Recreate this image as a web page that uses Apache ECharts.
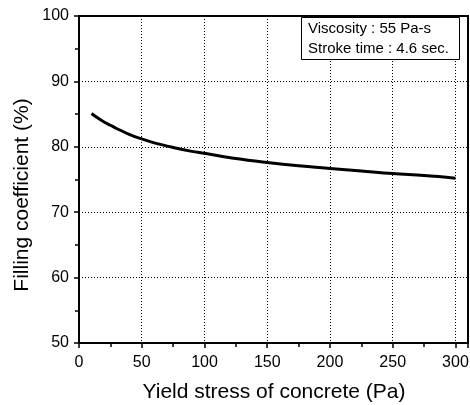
<!DOCTYPE html>
<html><head><meta charset="utf-8">
<script src="https://cdn.jsdelivr.net/npm/echarts@6/dist/echarts.min.js"></script>
<style>html,body{margin:0;padding:0;background:#fff}#c{width:470px;height:405px}</style>
</head><body><div id="c"></div>
<script>
var xVals = [10, 15, 20, 25, 30, 40, 50, 60, 75, 90, 100, 125, 150, 175, 200, 225, 250, 275, 300];
var yVals = [85.1, 84.4, 83.8, 83.3, 82.8, 81.9, 81.2, 80.6, 79.9, 79.3, 79.0, 78.2, 77.6, 77.1, 76.7, 76.3, 75.9, 75.6, 75.2];
var xTicks = [0, 50, 100, 150, 200, 250, 300];
var yTicks = [50, 60, 70, 80, 90, 100];
var annot = ['Viscosity : 55 Pa-s', 'Stroke time : 4.6 sec.'];
var xTitle = 'Yield stress of concrete (Pa)';
var yTitle = 'Filling coefficient (%)';

var font = 'Arial, "Liberation Sans", sans-serif';
var chart = echarts.init(document.getElementById('c'));
var data = xVals.map(function(x, i){ return [x, yVals[i]]; });
chart.setOption({
  animation: false,
  grid: {left: 79, right: 2, top: 16, bottom: 62, outerBoundsMode: 'none', containLabel: false,
         show: true, borderColor: '#000', borderWidth: 2, backgroundColor: 'transparent'},
  xAxis: {
    type: 'value', min: 0, max: 310, interval: 50,
    axisLine: {show: true, onZero: false, lineStyle: {color: '#000', width: 2}},
    axisTick: {show: true, inside: false, length: 5, lineStyle: {color: '#000', width: 1.5}},
    minorTick: {show: true, splitNumber: 2, length: 4, lineStyle: {color: '#000', width: 1.5}},
    axisLabel: {fontFamily: font, fontSize: 16, color: '#000', margin: 12,
      formatter: function(v){ return xTicks.indexOf(v) >= 0 ? String(v) : ''; }},
    splitLine: {show: true, lineStyle: {color: '#000', width: 1, type: [1, 2]}}
  },
  yAxis: {
    type: 'value', min: 50, max: 100, interval: 10,
    axisLine: {show: true, lineStyle: {color: '#000', width: 2}},
    axisTick: {show: true, inside: false, length: 5, lineStyle: {color: '#000', width: 1.5}},
    minorTick: {show: true, splitNumber: 2, length: 4, lineStyle: {color: '#000', width: 1.5}},
    axisLabel: {fontFamily: font, fontSize: 16, color: '#000', margin: 10,
      formatter: function(v){ return yTicks.indexOf(v) >= 0 ? String(v) : ''; }},
    splitLine: {show: true, lineStyle: {color: '#000', width: 1, type: [1, 2]}}
  },
  series: [{
    type: 'line', data: data, smooth: 0.4, showSymbol: false,
    lineStyle: {color: '#000', width: 3}
  }],
  graphic: [
    {type: 'text', x: 22, y: 195, rotation: Math.PI / 2,
     style: {text: yTitle, font: '21px ' + font, fill: '#000', textAlign: 'center', textVerticalAlign: 'middle'}},
    {type: 'text', x: 274, y: 392,
     style: {text: xTitle, font: '21px ' + font, fill: '#000', textAlign: 'center', textVerticalAlign: 'middle'}},
    {type: 'rect', left: 301, top: 17, shape: {width: 158, height: 42},
     style: {fill: '#fff', stroke: '#000', lineWidth: 1}, z: 100},
    {type: 'text', left: 308, top: 21, style: {text: annot[0], font: '15px ' + font, fill: '#000'}, z: 101},
    {type: 'text', left: 308, top: 41, style: {text: annot[1], font: '15px ' + font, fill: '#000'}, z: 101}
  ]
});
</script></body></html>
